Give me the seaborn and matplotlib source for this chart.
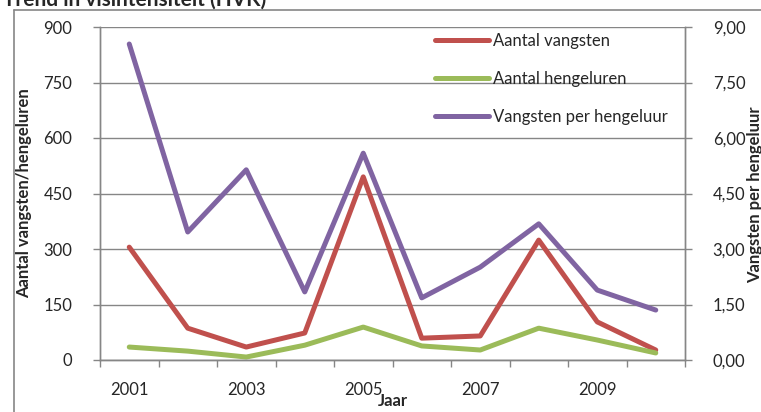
import matplotlib
matplotlib.use("Agg")
import matplotlib.pyplot as plt
import seaborn as sns
import pandas as pd
from matplotlib.lines import Line2D
from matplotlib.ticker import FuncFormatter

years = [2001, 2002, 2003, 2004, 2005, 2006, 2007, 2008, 2009, 2010]
vangsten = [305, 86, 35, 73, 495, 59, 65, 324, 103, 27]
hengeluren = [35, 24, 8, 40, 89, 38, 27, 86, 54, 19]
per_uur = [8.54, 3.46, 5.14, 1.84, 5.59, 1.68, 2.51, 3.68, 1.89, 1.35]
left_ticks = [0, 150, 300, 450, 600, 750, 900]
right_ticks = [0, 1.5, 3.0, 4.5, 6.0, 7.5, 9.0]
year_labels = [2001, 2003, 2005, 2007, 2009]

sns.set_style("white")
plt.rcParams['font.family'] = ['Lato', 'DejaVu Sans']

RED, GREEN, PURPLE = "#C0504D", "#9BBB59", "#8064A2"
GREY = "#868686"
LW = 3.6

df = pd.DataFrame({"Jaar": years, "Aantal vangsten": vangsten,
                   "Aantal hengeluren": hengeluren,
                   "Vangsten per hengeluur": per_uur})

fig = plt.figure(figsize=(7.61, 4.12), dpi=100)
W, H = 761, 412
ax = fig.add_axes([100 / W, (H - 360) / H, 585 / W, 333 / H])
ax2 = ax.twinx()

kw = dict(linewidth=LW, solid_joinstyle="round", solid_capstyle="round")
sns.lineplot(data=df, x="Jaar", y="Aantal vangsten", color=RED, ax=ax,
             label="Aantal vangsten", legend=False, **kw)
sns.lineplot(data=df, x="Jaar", y="Aantal hengeluren", color=GREEN, ax=ax,
             label="Aantal hengeluren", legend=False, **kw)
sns.lineplot(data=df, x="Jaar", y="Vangsten per hengeluur", color=PURPLE, ax=ax2,
             label="Vangsten per hengeluur", legend=False, **kw)

ax.set_xlim(2000.5, 2010.5)
ax.set_ylim(0, 900)
ax2.set_ylim(0, 9)
ax.set_yticks(left_ticks)
ax2.set_yticks(right_ticks)
ax2.yaxis.set_major_formatter(FuncFormatter(lambda v, p: f"{v:.2f}".replace(".", ",")))
ax.set_xticks(year_labels)
ax.set_xticklabels([str(y) for y in year_labels])
ax.set_xticks([2000.5 + i for i in range(11)], minor=True)

ax.grid(axis="y", color=GREY, linewidth=1.0)
ax.set_axisbelow(True)
for a in (ax, ax2):
    for s in a.spines.values():
        s.set_color(GREY)
        s.set_linewidth(1.0)
ax.spines["top"].set_visible(False)
ax2.spines["top"].set_visible(False)

fs = 12
ax.tick_params(axis="y", which="major", direction="out", length=5, width=1,
               color=GREY, pad=15, labelsize=fs, left=True)
ax2.tick_params(axis="y", which="major", direction="out", length=5, width=1,
                color=GREY, pad=15, labelsize=fs, right=True)
ax.tick_params(axis="x", which="major", length=0, pad=16, labelsize=fs)
ax.tick_params(axis="x", which="minor", direction="out", length=5, width=1,
               color=GREY, bottom=True)

ax.set_xlabel("Jaar", fontsize=fs, fontweight="bold", labelpad=-4)
ax.set_ylabel("Aantal vangsten/hengeluren", fontsize=fs, fontweight="bold")
ax.yaxis.set_label_coords((32 - 100) / 585, 0.5)
ax2.set_ylabel("")
fig.text(755 / W, 1 - 195 / H, "Vangsten per hengeluur", rotation=90,
         ha="center", va="center", fontsize=fs, fontweight="bold")

handles = [Line2D([], [], color=c, linewidth=LW, solid_capstyle="round")
           for c in (RED, GREEN, PURPLE)]
labels = ["Aantal vangsten", "Aantal hengeluren", "Vangsten per hengeluur"]
ax2.legend(handles, labels, loc="upper left", bbox_to_anchor=(0.573, 0.982),
           frameon=False, fontsize=fs, handlelength=3.25, handletextpad=0.2,
           labelspacing=1.33, borderpad=0, borderaxespad=0)

# outer chart border
fig.add_artist(Line2D([14 / W, 14 / W], [0, 1 - 10 / H], color=GREY, linewidth=1.2))
fig.add_artist(Line2D([14 / W, 1], [1 - 10 / H, 1 - 10 / H], color=GREY, linewidth=1.2))

fig.text(3 / W, 1 + 10 / H, "Trend in visintensiteit (HVK)", ha="left", va="top",
         fontsize=15, fontweight="bold")

fig.savefig("out.png", dpi=100)
